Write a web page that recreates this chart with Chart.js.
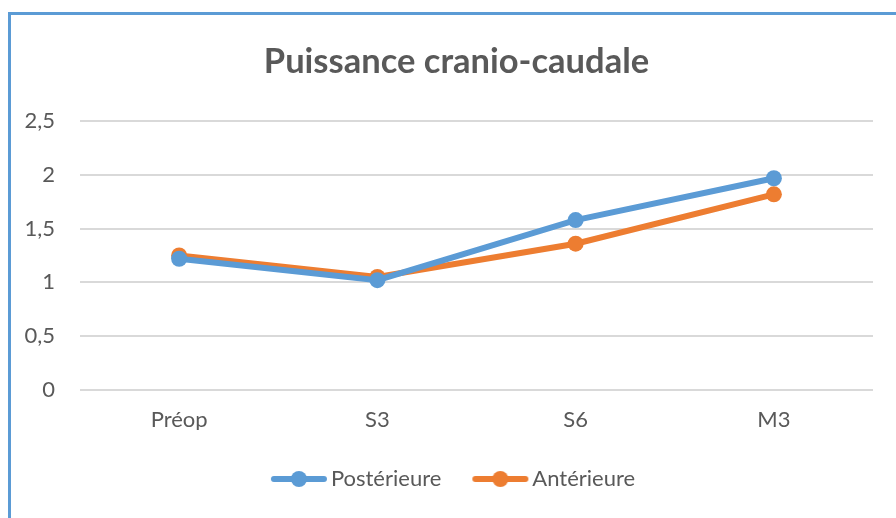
<!DOCTYPE html>
<html>
<head>
<meta charset="utf-8">
<script src="https://cdn.jsdelivr.net/npm/chart.js@4"></script>
<style>
  html, body { margin: 0; padding: 0; background: #fff; }
  #container {
    position: absolute; left: 8px; top: 12px;
    width: 885px; height: 503px;
    border-left: 3px solid #5B9BD5; border-top: 3px solid #5B9BD5;
  }
</style>
</head>
<body>
<div id="container"><canvas id="chartcanvas"></canvas></div>
<script>
var categories = ['Préop', 'S3', 'S6', 'M3'];
var posterieure = [1.22, 1.02, 1.58, 1.97];
var anterieure = [1.25, 1.05, 1.36, 1.82];
var yTicks = [0, 0.5, 1, 1.5, 2, 2.5];

var blue = '#5B9BD5';
var orange = '#ED7D31';
var textColor = '#595959';
var fontFamily = 'Lato, "Open Sans", sans-serif';

// legend icon: line with a dot in the middle
function legendIcon(color) {
    var c = document.createElement('canvas');
    c.width = 58;
    c.height = 18;
    var g = c.getContext('2d');
    g.strokeStyle = color;
    g.lineWidth = 6;
    g.lineCap = 'round';
    g.beginPath();
    g.moveTo(4, 9);
    g.lineTo(54, 9);
    g.stroke();
    g.fillStyle = color;
    g.beginPath();
    g.arc(29, 9, 8, 0, Math.PI * 2);
    g.fill();
    return c;
}

var ctx = document.getElementById('chartcanvas');
var myChart = new Chart(ctx, {
    type: 'line',
    data: {
        labels: categories,
        datasets: [{
            label: 'Postérieure',
            data: posterieure,
            borderColor: blue,
            backgroundColor: blue,
            borderWidth: 6,
            pointRadius: 8,
            pointHoverRadius: 8,
            pointStyle: 'circle',
            pointBorderWidth: 0,
        }, {
            label: 'Antérieure',
            data: anterieure,
            borderColor: orange,
            backgroundColor: orange,
            borderWidth: 6,
            pointRadius: 8,
            pointHoverRadius: 8,
            pointStyle: 'circle',
            pointBorderWidth: 0,
        }],
    },
    options: {
        responsive: true,
        maintainAspectRatio: false,
        animation: false,
        layout: {
            padding: { left: 11, right: 5, top: 0, bottom: 18 },
        },
        plugins: {
            title: {
                display: true,
                text: 'Puissance cranio-caudale',
                color: textColor,
                padding: { top: 26, bottom: 39 },
                font: { family: fontFamily, size: 34.5, weight: 'bold' },
            },
            legend: {
                position: 'bottom',
                labels: {
                    usePointStyle: true,
                    pointStyleWidth: 42,
                    padding: 38,
                    color: textColor,
                    font: { family: fontFamily, size: 22 },
                    generateLabels: function (chart) {
                        return chart.data.datasets.map(function (ds, i) {
                            return {
                                text: ds.label,
                                fontColor: textColor,
                                pointStyle: legendIcon(ds.borderColor),
                                datasetIndex: i,
                                hidden: false,
                                lineWidth: 0,
                            };
                        });
                    },
                },
            },
            tooltip: { enabled: false },
        },
        scales: {
            y: {
                min: 0,
                max: 2.5,
                afterBuildTicks: function (axis) {
                    axis.ticks = yTicks.map(function (v) { return { value: v }; });
                },
                afterFit: function (axis) { axis.width = 58; },
                ticks: {
                    color: textColor,
                    padding: 25,
                    font: { family: fontFamily, size: 22 },
                    callback: function (v) { return String(v).replace('.', ','); },
                },
                border: { display: false },
                grid: { color: '#D9D9D9', lineWidth: 2, drawTicks: false },
            },
            // empty right-hand spacer so the plot ends where the reference does
            yRight: {
                position: 'right',
                min: 0,
                max: 2.5,
                afterFit: function (axis) { axis.width = 18; },
                ticks: { display: false },
                border: { display: false },
                grid: { display: false, drawTicks: false },
            },
            x: {
                offset: true,
                afterFit: function (axis) { axis.height -= 20; },
                ticks: {
                    color: textColor,
                    padding: 17,
                    font: { family: fontFamily, size: 22 },
                },
                border: { display: false },
                grid: { display: false, drawTicks: false },
            },
        },
    },
});
</script>
</body>
</html>
